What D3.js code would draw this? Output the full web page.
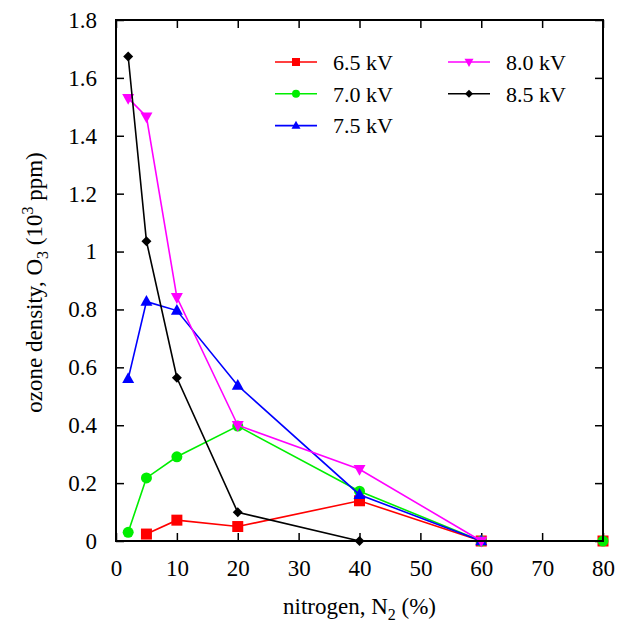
<!DOCTYPE html>
<html>
<head>
<meta charset="utf-8">
<script src="https://cdn.jsdelivr.net/npm/d3@7"></script>
<style>
  body { margin: 0; background: #fff; }
  #plotDiv svg text { font-family: "Liberation Serif", serif !important; }
</style>
</head>
<body>
<div id="plotDiv"></div>
<script>
// nitrogen content (%) and ozone density (10^3 ppm) per applied voltage
var labels = ["6.5 kV", "7.0 kV", "7.5 kV", "8.0 kV", "8.5 kV"];
var colors = ["#ff0000", "#00ee00", "#0000ff", "#ff00ff", "#000000"];
var shapes = ["square", "circle", "triUp", "triDown", "diamond"];

var x65 = [5, 10, 20, 40, 60, 80];
var y65 = [0.024, 0.072, 0.05, 0.139, 0, 0];
var x70 = [2, 5, 10, 20, 40, 60, 80];
var y70 = [0.03, 0.218, 0.291, 0.397, 0.172, 0, 0];
var x75 = [2, 5, 10, 20, 40, 60];
var y75 = [0.56, 0.827, 0.796, 0.537, 0.16, 0];
var x80 = [2, 5, 10, 20, 40, 60];
var y80 = [1.53, 1.466, 0.842, 0.40, 0.248, 0];
var x85 = [2, 5, 10, 20, 40];
var y85 = [1.674, 1.036, 0.564, 0.099, 0];

var xTicks = [0, 10, 20, 30, 40, 50, 60, 70, 80];
var yTicks = [0, 0.2, 0.4, 0.6, 0.8, 1, 1.2, 1.4, 1.6, 1.8];

var serif = "'Liberation Serif', serif";

var width = 622, height = 624;
var margin = {top: 20, right: 19, bottom: 83, left: 116};
var w = width - margin.left - margin.right;
var h = height - margin.top - margin.bottom;

var svg = d3.select("#plotDiv").append("svg")
    .attr("width", width)
    .attr("height", height);

var g = svg.append("g")
    .attr("transform", "translate(" + margin.left + "," + margin.top + ")");

var x = d3.scaleLinear().domain([0, 80]).range([0, w]);
var y = d3.scaleLinear().domain([0, 1.8]).range([h, 0]);

var tickLen = 8;
var fmtY = function(d) { return d === 0 ? "0" : (d === 1 ? "1" : d3.format(".1f")(d)); };

// bottom + left axes with labels, ticks pointing inward
var xb = g.append("g").attr("transform", "translate(0," + h + ")")
    .call(d3.axisBottom(x).tickValues(xTicks).tickSizeInner(-tickLen).tickSizeOuter(0).tickPadding(19));
var yl = g.append("g")
    .call(d3.axisLeft(y).tickValues(yTicks).tickFormat(fmtY).tickSizeInner(-tickLen).tickSizeOuter(0).tickPadding(19));
// mirrored ticks top/right
var xt = g.append("g")
    .call(d3.axisTop(x).tickValues(xTicks).tickSizeInner(-tickLen).tickSizeOuter(0).tickFormat(""));
var yr = g.append("g").attr("transform", "translate(" + w + ",0)")
    .call(d3.axisRight(y).tickValues(yTicks).tickSizeInner(-tickLen).tickSizeOuter(0).tickFormat(""));

[xb, yl, xt, yr].forEach(function(a) {
    a.select(".domain").remove();
    a.selectAll("line").attr("stroke", "#000").attr("stroke-width", 1.5);
    a.selectAll("text")
        .style("font-family", serif, "important")
        .style("font-size", "23px")
        .attr("fill", "#000");
});
xb.selectAll("text").attr("dy", "0.71em");

var series = [
    {xs: x65, ys: y65}, {xs: x70, ys: y70}, {xs: x75, ys: y75},
    {xs: x80, ys: y80}, {xs: x85, ys: y85}
];

var line = d3.line()
    .x(function(d) { return x(d[0]); })
    .y(function(d) { return y(d[1]); });

function symbolPath(shape, s) {
    if (shape === "square") return d3.symbol(d3.symbolSquare, s * s)();
    if (shape === "circle") return d3.symbol(d3.symbolCircle, Math.PI * s * s / 4)();
    if (shape === "diamond") return "M0," + (-s / 2) + "L" + (s / 2) + ",0L0," + (s / 2) + "L" + (-s / 2) + ",0Z";
    var a = s / 2;
    if (shape === "triUp") return "M0," + (-a * 1.1) + "L" + a + "," + (a * 0.7) + "L" + (-a) + "," + (a * 0.7) + "Z";
    return "M0," + (a * 1.1) + "L" + a + "," + (-a * 0.7) + "L" + (-a) + "," + (-a * 0.7) + "Z";
}
var markSize = [11, 11, 12, 12, 10];

series.forEach(function(s, i) {
    var pts = s.xs.map(function(v, k) { return [v, s.ys[k]]; });
    g.append("path")
        .datum(pts)
        .attr("d", line)
        .attr("fill", "none")
        .attr("stroke", colors[i])
        .attr("stroke-width", 1.6);
    g.append("g").selectAll("path")
        .data(pts)
        .enter().append("path")
        .attr("transform", function(d) { return "translate(" + x(d[0]) + "," + y(d[1]) + ")"; })
        .attr("d", symbolPath(shapes[i], markSize[i]))
        .attr("fill", colors[i]);
});

// frame
g.append("rect")
    .attr("width", w).attr("height", h)
    .attr("fill", "none").attr("stroke", "#000").attr("stroke-width", 2);

// legend, two columns
var legPos = [[0, 0], [0, 1], [0, 2], [1, 0], [1, 1]];
var leg = svg.append("g").attr("transform", "translate(275,62)");
var legSize = [8, 8, 9, 9, 8];
labels.forEach(function(lab, i) {
    var row = leg.append("g")
        .attr("transform", "translate(" + (legPos[i][0] * 173) + "," + (legPos[i][1] * 31.8) + ")");
    row.append("line").attr("x1", 0).attr("x2", 42).attr("y1", 0).attr("y2", 0)
        .attr("stroke", colors[i]).attr("stroke-width", 1.6);
    row.append("path").attr("transform", "translate(21,0)")
        .attr("d", symbolPath(shapes[i], legSize[i]))
        .attr("fill", colors[i]);
    row.append("text").attr("x", 58).attr("y", 0).attr("dy", "0.35em")
        .style("font-family", serif, "important")
        .style("font-size", "22px").text(lab);
});

// axis titles
var xt2 = svg.append("text")
    .attr("x", margin.left + w / 2).attr("y", 614)
    .attr("text-anchor", "middle")
    .style("font-family", serif, "important")
    .style("font-size", "23px");
xt2.append("tspan").text("nitrogen, N");
xt2.append("tspan").attr("dy", 6).style("font-size", "16px").text("2");
xt2.append("tspan").attr("dy", -6).text(" (%)");

var yt = svg.append("text")
    .attr("transform", "translate(42," + (margin.top + h / 2 + 2) + ") rotate(-90)")
    .attr("text-anchor", "middle")
    .style("font-family", serif, "important")
    .style("font-size", "23px");
yt.append("tspan").text("ozone density, O");
yt.append("tspan").attr("dy", 6).style("font-size", "16px").text("3");
yt.append("tspan").attr("dy", -6).text(" (10");
yt.append("tspan").attr("dy", -9).style("font-size", "16px").text("3");
yt.append("tspan").attr("dy", 9).text(" ppm)");
</script>
</body>
</html>
